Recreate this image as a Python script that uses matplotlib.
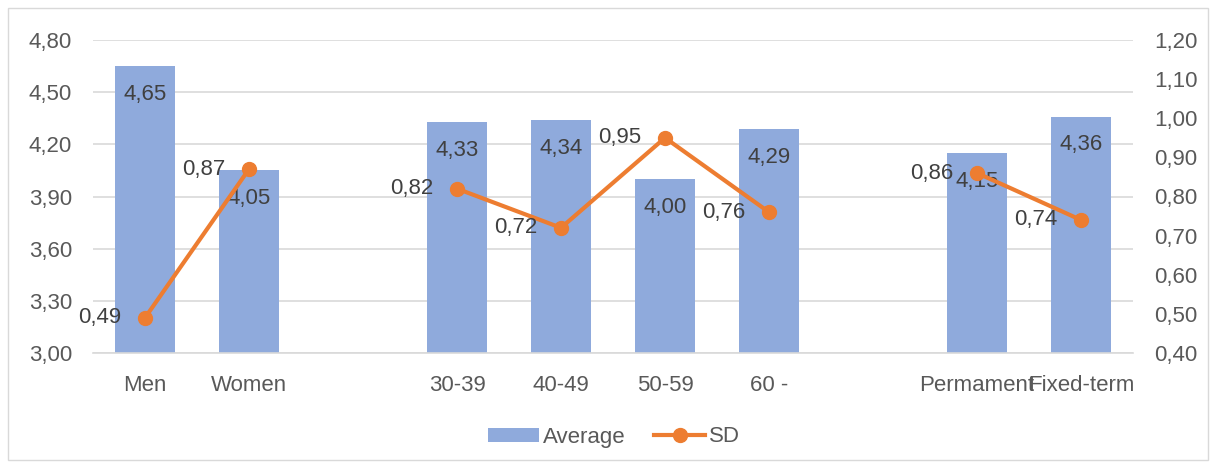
import numpy as np
import matplotlib
matplotlib.use("Agg")
import matplotlib.pyplot as plt
from matplotlib.patches import Rectangle
from matplotlib.lines import Line2D
from matplotlib.patches import Patch

plt.rcParams['font.family'] = ['Liberation Sans', 'DejaVu Sans']

# Category slots (empty strings separate the groups)
categories = ["Men", "Women", "", "30-39", "40-49", "50-59", "60 -", "", "Permament", "Fixed-term"]
average = [4.65, 4.05, np.nan, 4.33, 4.34, 4.00, 4.29, np.nan, 4.15, 4.36]
sd = [0.49, 0.87, np.nan, 0.82, 0.72, 0.95, 0.76, np.nan, 0.86, 0.74]

left_ticks = [3.00, 3.30, 3.60, 3.90, 4.20, 4.50, 4.80]
right_ticks = [0.40, 0.50, 0.60, 0.70, 0.80, 0.90, 1.00, 1.10, 1.20]

BAR_COLOR = "#8FAADC"
LINE_COLOR = "#ED7D31"
TICK_COLOR = "#595959"
LABEL_COLOR = "#404040"
GRID_COLOR = "#D9D9D9"
FS = 16

W, H = 1216, 468
fig = plt.figure(figsize=(W / 100, H / 100), dpi=100)

# light chart-area border
fig.patches.append(Rectangle((8 / W, 8 / H), 1200 / W, 452 / H, transform=fig.transFigure,
                             fill=False, edgecolor=GRID_COLOR, linewidth=1.0))

ax = fig.add_axes([93 / W, (H - 353) / H, 1040 / W, 313 / H])
ax2 = ax.twinx()

x = np.arange(len(categories))
bar_vals = np.array(average, dtype=float)
ax.bar(x, np.nan_to_num(bar_vals - 3.0), bottom=3.0, width=0.57, color=BAR_COLOR, zorder=2)

ax.set_xlim(-0.5, len(categories) - 0.5)
ax.set_ylim(3.0, 4.8)
ax.set_yticks(left_ticks)
ax.set_yticklabels([f"{v:.2f}".replace(".", ",") for v in left_ticks])
ax.set_xticks(x)
ax.set_xticklabels(categories)
ax.tick_params(axis='both', length=0, labelsize=FS, colors=TICK_COLOR)
ax.tick_params(axis='x', pad=16)
ax.tick_params(axis='y', pad=15)
ax.grid(axis='y', color=GRID_COLOR, linewidth=1.2, zorder=0)
ax.set_axisbelow(True)
for s in ["top", "right", "left"]:
    ax.spines[s].set_visible(False)
ax.spines["bottom"].set_color(GRID_COLOR)
ax.spines["bottom"].set_linewidth(1.2)

for xi, v in zip(x, average):
    if np.isnan(v):
        continue
    ax.annotate(f"{v:.2f}".replace(".", ","), (xi, v), xytext=(0, -20.5), textcoords="offset points",
                ha="center", va="center", fontsize=FS, color=LABEL_COLOR, zorder=5)

ax2.set_ylim(0.4, 1.2)
ax2.set_yticks(right_ticks)
ax2.set_yticklabels([f"{v:.2f}".replace(".", ",") for v in right_ticks])
ax2.tick_params(axis='y', length=0, labelsize=FS, colors=TICK_COLOR, pad=15)
for s in ["top", "right", "left", "bottom"]:
    ax2.spines[s].set_visible(False)

ax2.plot(x, sd, color=LINE_COLOR, linewidth=3, marker="o", markersize=10, zorder=4,
         solid_capstyle="round")
for xi, v in zip(x, sd):
    if np.isnan(v):
        continue
    ax2.annotate(f"{v:.2f}".replace(".", ","), (xi, v), xytext=(-17, 0), textcoords="offset points",
                 ha="right", va="center", fontsize=FS, color=LABEL_COLOR, zorder=6)

handles = [Patch(facecolor=BAR_COLOR, edgecolor="none"),
           Line2D([0], [0], color=LINE_COLOR, linewidth=3, marker="o", markersize=10)]
fig.legend(handles, ["Average", "SD"], loc="center", bbox_to_anchor=(0.505, (H - 437) / H),
           ncol=2, frameon=False, fontsize=FS, labelcolor=TICK_COLOR,
           handlelength=2.3, handleheight=0.6, handletextpad=0.15, columnspacing=1.3)

fig.savefig("out.png", dpi=100)
